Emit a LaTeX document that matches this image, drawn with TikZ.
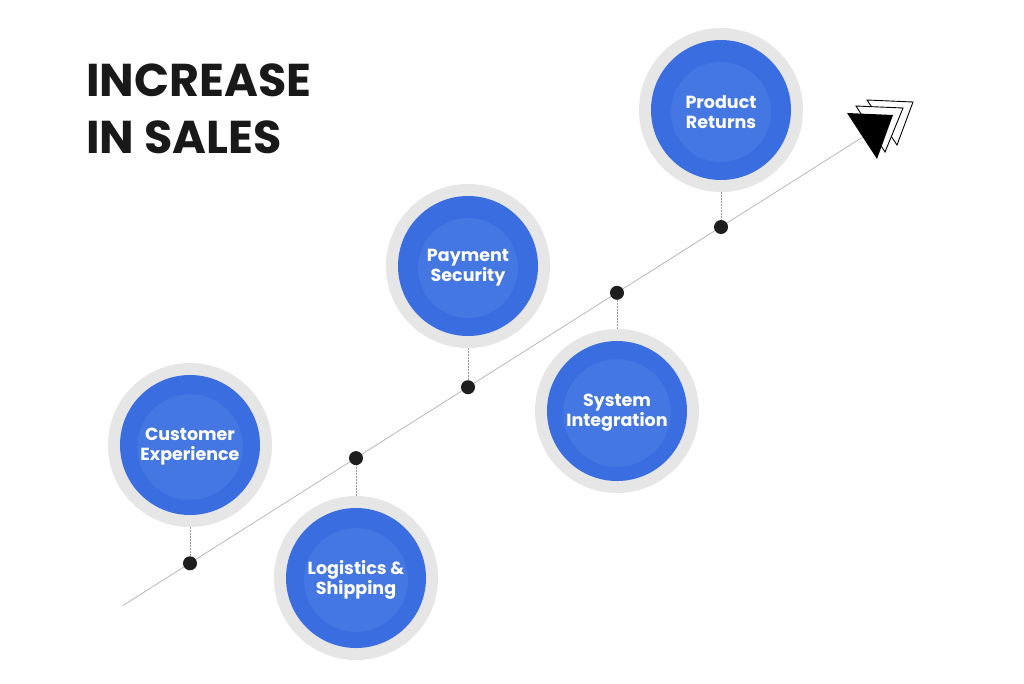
\documentclass[tikz,border=0pt]{standalone}
\usepackage{fontspec}
\setmainfont{Poppins}
\definecolor{ringgray}{HTML}{E6E6E6}
\definecolor{mainblue}{HTML}{3A6EE0}
\definecolor{lightblue}{HTML}{4477E2}
\definecolor{dotblack}{HTML}{1E1E1E}
\tikzset{
  ringc/.style={circle, fill=ringgray, minimum size=164pt, inner sep=0pt},
  bluec/.style={circle, fill=mainblue, minimum size=140pt, inner sep=0pt},
  innerc/.style={circle, fill=lightblue, minimum size=100pt, inner sep=0pt, text=white,
     font=\bfseries\fontsize{17.5}{20}\selectfont, align=center},
  dotc/.style={circle, fill=dotblack, minimum size=14pt, inner sep=0pt},
  axis/.style={draw=gray!60, line width=0.7pt},
  stem/.style={draw=gray!80, line width=0.7pt, dash pattern=on 2pt off 1pt},
  title/.style={anchor=base west, font=\bfseries\fontsize{46}{52}\selectfont, text=black!90, inner sep=0pt},
  tri/.style={draw=black, line width=0.9pt, fill=white},
}
\begin{document}
\begin{tikzpicture}[x=1pt,y=-1pt]
\path[use as bounding box, fill=white] (0,0) rectangle (1024,683);
% title
\node[title] (t1) at (86,96) {INCREASE};
\node[title] (t2) at (86,153) {IN SALES};
% axis
\coordinate (ls) at (123,605.5);
\coordinate (le) at (862,137.5);
\draw[axis] (ls) -- (le);
% arrow triangles
\draw[tri] (867,100) -- (913,102) -- (897,145) -- cycle;
\draw[tri] (856,106) -- (903,108) -- (885,152) -- cycle;
\fill[black] (847,113) -- (893,115) -- (877,159) -- cycle;
% bubbles
\foreach \n/\x/\y/\t in {ce/190/445/{Customer\\Experience}, ls1/356/578/{Logistics \&\\Shipping}, ps/468/266/{Payment\\Security}, si/617/411/{System\\Integration}, pr/721/110/{Product\\Returns}}{
  \node[ringc] (\n o) at (\x,\y) {};
  \node[bluec] (\n b) at (\x,\y) {};
  \node[innerc] (\n) at (\x,\y+2) {\t};
}
% dots
\node[dotc] (d1) at (190,563.3) {};
\node[dotc] (d2) at (356,458.1) {};
\node[dotc] (d3) at (468,387.2) {};
\node[dotc] (d4) at (617,292.8) {};
\node[dotc] (d5) at (721,227) {};
% stems
\draw[stem] (ceo.south) -- (d1);
\draw[stem] (ls1o.north) -- (d2);
\draw[stem] (pso.south) -- (d3);
\draw[stem] (sio.north) -- (d4);
\draw[stem] (pro.south) -- (d5);
\end{tikzpicture}
\end{document}
